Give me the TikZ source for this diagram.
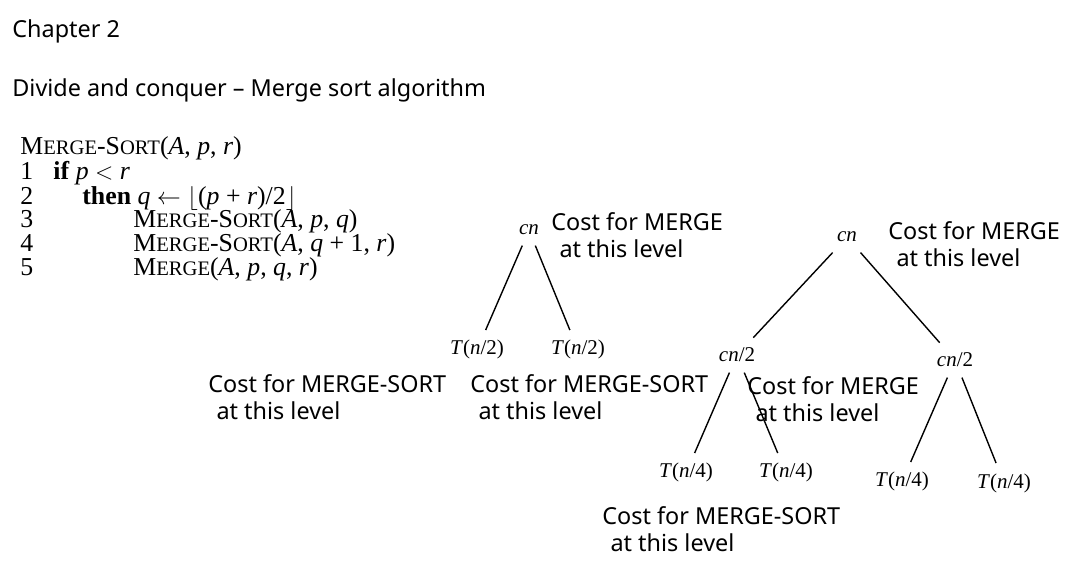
\documentclass[tikz,border=0pt]{standalone}
\usepackage{fontspec}
\setmainfont{Liberation Serif}
\newfontfamily\costfont{Noto Sans}
\usetikzlibrary{positioning}

\newcommand{\lowcaps}[1]{{\fontsize{10.3}{10}\selectfont #1}}
\newcommand{\msort}{M\lowcaps{ERGE}-S\lowcaps{ORT}}
\newcommand{\mrg}{M\lowcaps{ERGE}}
\newcommand{\va}[1]{\textit{#1}}

\begin{document}
\begin{tikzpicture}[x=0.5pt,y=-0.5pt,
	sans/.style={font=\costfont\fontsize{11.7}{13.5}\selectfont, inner sep=0pt, anchor=base west, align=left},
	code/.style={font=\fontsize{12.9}{14}\selectfont, inner sep=0pt, anchor=base west},
	rec/.style={font=\fontsize{10.5}{12}\selectfont, inner sep=5pt, anchor=base},
	edge/.style={line width=0.7pt}]

				\useasboundingbox [fill=white] (0,0) rectangle (1087,582);

				% heading
				\node [sans] (chap)  at (12,38) {Chapter 2};
				\node [sans] (title) at (12,97) {Divide and conquer \textendash{} Merge sort algorithm};

				% pseudocode
				\node [code] (head) at (20,155) {\msort(\va{A}, \va{p}, \va{r})};
				\node [code] (num1) at (20,180) {1};
				\node [code] (num2) at (20,205) {2};
				\node [code] (num3) at (20,228) {3};
				\node [code] (num4) at (20,252) {4};
				\node [code] (num5) at (20,276) {5};
				\node [code] (line1) at (53,180)  {\textbf{if} \va{p} $<$ \va{r}};
				\node [code] (line2) at (82,205)  {\textbf{then} \va{q} $\leftarrow$ $\lfloor$(\va{p} + \va{r})/2$\rfloor$};
				\node [code] (line3) at (133,228) {\msort(\va{A}, \va{p}, \va{q})};
				\node [code] (line4) at (133,252) {\msort(\va{A}, \va{q} + 1, \va{r})};
				\node [code] (line5) at (133,276) {\mrg(\va{A}, \va{p}, \va{q}, \va{r})};

				% first tree
				\node [rec] (cnA)  at (529,235) {\va{cn}};
				\node [rec] (tA1)  at (477,355) {\va{T}(\va{n}/2)};
				\node [rec] (tA2)  at (578,355) {\va{T}(\va{n}/2)};
				\draw [edge] (cnA) -- (tA1);
				\draw [edge] (cnA) -- (tA2);

				\node [sans] (costA)  at (551,258) {Cost for MERGE\\\hspace*{0.35em}at this level};
				\node [sans] (sortA1) at (208,420) {Cost for MERGE-SORT\\\hspace*{0.35em}at this level};
				\node [sans] (sortA2) at (470,420) {Cost for MERGE-SORT\\\hspace*{0.35em}at this level};

				% second tree
				\node [rec] (cnB)  at (847,242) {\va{cn}};
				\node [rec] (cnB1) at (737,362) {\va{cn}/2};
				\node [rec] (cnB2) at (955,367) {\va{cn}/2};
				\node [rec] (tB1)  at (686,478) {\va{T}(\va{n}/4)};
				\node [rec] (tB2)  at (786,478) {\va{T}(\va{n}/4)};
				\node [rec] (tB3)  at (902,487) {\va{T}(\va{n}/4)};
				\node [rec] (tB4)  at (1004,488) {\va{T}(\va{n}/4)};
				\draw [edge] (cnB) -- (cnB1);
				\draw [edge] (cnB) -- (cnB2);
				\draw [edge] (cnB1) -- (tB1);
				\draw [edge] (cnB1) -- (tB2);
				\draw [edge] (cnB2) -- (tB3);
				\draw [edge] (cnB2) -- (tB4);

				\node [sans] (costB)  at (888,267) {Cost for MERGE\\\hspace*{0.35em}at this level};
				\node [sans] (costB1) at (747,422) {Cost for MERGE\\\hspace*{0.35em}at this level};
				\node [sans] (sortB)  at (602,552) {Cost for MERGE-SORT\\\hspace*{0.35em}at this level};

				\end{tikzpicture}
\end{document}
